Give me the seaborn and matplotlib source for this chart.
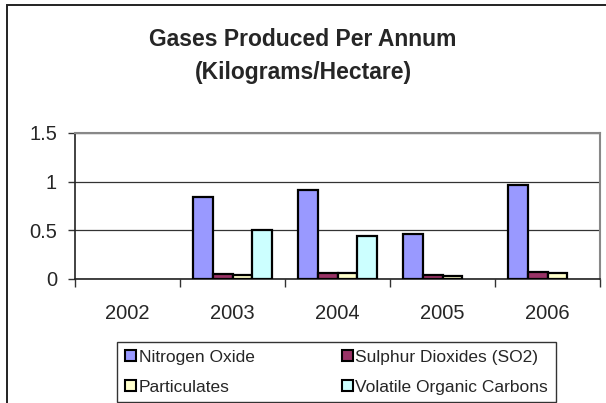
import matplotlib
matplotlib.use("Agg")
import matplotlib.pyplot as plt
import matplotlib.patches as mpatches
import seaborn as sns
import pandas as pd

# data
years = ["2002", "2003", "2004", "2005", "2006"]
gases = ["Nitrogen Oxide", "Sulphur Dioxides (SO2)", "Particulates", "Volatile Organic Carbons"]
nitrogen_oxide = [0, 0.84, 0.91, 0.46, 0.97]
sulphur_dioxides = [0, 0.05, 0.06, 0.04, 0.07]
particulates = [0, 0.04, 0.06, 0.03, 0.06]
voc = [0, 0.50, 0.445, 0, 0]
colors = ["#9999FF", "#993366", "#FFFFCC", "#CCFFFF"]

rows = []
for gas, vals in zip(gases, [nitrogen_oxide, sulphur_dioxides, particulates, voc]):
    for yr, v in zip(years, vals):
        rows.append({"year": yr, "gas": gas, "value": v})
df = pd.DataFrame(rows)

sns.set_style("white")
plt.rcParams["font.family"] = ["Liberation Sans", "DejaVu Sans"]

fig = plt.figure(figsize=(6.06, 4.03), dpi=100)
ax = fig.add_axes([75 / 606, 1 - 279 / 403, 525 / 606, 146 / 403])

sns.barplot(data=df, x="year", y="value", hue="gas", order=years, hue_order=gases,
            palette=colors, saturation=1, edgecolor="black", linewidth=1.6,
            width=0.75, ax=ax, zorder=3, legend=False)

# empty bars leave no outline
for p in ax.patches:
    if p.get_height() == 0:
        p.set_linewidth(0)

ax.set_xlim(-0.5, 4.5)
ax.set_ylim(0, 1.5)
ax.set_yticks([0, 0.5, 1, 1.5])
ax.set_yticklabels(["0", "0.5", "1", "1.5"])
ax.yaxis.grid(True, color="#333333", linewidth=0.9, zorder=0)
ax.set_axisbelow(True)
ax.set_xlabel("")
ax.set_ylabel("")

# category boundary ticks, labels at centers
ax.set_xticks([-0.5, 0.5, 1.5, 2.5, 3.5, 4.5])
ax.set_xticklabels([])
ax.set_xticks(range(len(years)), minor=True)
ax.set_xticklabels(years, minor=True)
ax.tick_params(axis="x", which="major", length=6, width=1, color="#333333", direction="out", bottom=True)
ax.tick_params(axis="x", which="minor", length=0, pad=18, labelsize=14.5)
ax.tick_params(axis="y", length=5, width=1, color="#333333", direction="out", left=True, pad=8, labelsize=14.5)

for side in ["left", "bottom"]:
    ax.spines[side].set_color("#222222")
    ax.spines[side].set_linewidth(1.2)
for side in ["top", "right"]:
    ax.spines[side].set_visible(True)
    ax.spines[side].set_color("#888888")
    ax.spines[side].set_linewidth(1.5)

fig.text(0.5, 1 - 39 / 403, "Gases Produced Per Annum", ha="center", va="center",
         fontsize=16.5, fontweight="bold")
fig.text(0.5, 1 - 73 / 403, "(Kilograms/Hectare)", ha="center", va="center",
         fontsize=16.5, fontweight="bold")

# legend filled row by row: matplotlib fills columns, so reorder
order = [0, 2, 1, 3]
handles = [mpatches.Patch(facecolor=colors[i], edgecolor="black", linewidth=1.5) for i in order]
labels = [gases[i] for i in order]
leg = fig.legend(handles, labels, ncol=2, loc="upper left",
                 bbox_to_anchor=(117 / 606, 1 - 346 / 403, (556 - 117) / 606, 0.01),
                 mode="expand", borderaxespad=0, fontsize=12.5, frameon=True,
                 fancybox=False, edgecolor="black", handlelength=0.65, handleheight=0.65,
                 handletextpad=0.15, labelspacing=0.85, borderpad=0.45, columnspacing=1)
leg.get_frame().set_linewidth(1.0)

# outer chart border (cut off at right and bottom)
border = mpatches.Rectangle((7 / 606, -0.1), 1.2, 1.1 - 5 / 403, transform=fig.transFigure,
                            fill=False, edgecolor="#222222", linewidth=1.4)
fig.patches.append(border)

fig.savefig("out.png", dpi=100)
